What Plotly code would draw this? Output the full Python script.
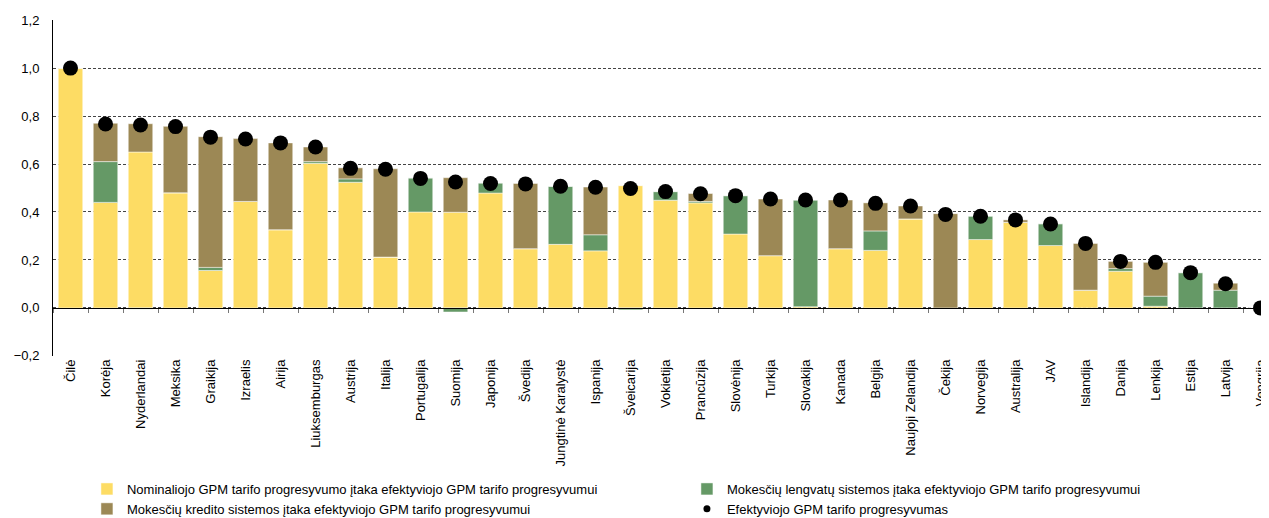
import plotly.graph_objects as go

countries = ["Čilė", "Korėja", "Nyderlandai", "Meksika", "Graikija", "Izraelis", "Airija",
             "Liuksemburgas", "Austrija", "Italija", "Portugalija", "Suomija", "Japonija",
             "Švedija", "Jungtinė Karalystė", "Ispanija", "Šveicarija", "Vokietija",
             "Prancūzija", "Slovėnija", "Turkija", "Slovakija", "Kanada", "Belgija",
             "Naujoji Zelandija", "Čekija", "Norvegija", "Australija", "JAV", "Islandija",
             "Danija", "Lenkija", "Estija", "Latvija", "Vengrija"]

nominal = [1.00, 0.44, 0.65, 0.48, 0.156, 0.444, 0.326, 0.603, 0.524, 0.212, 0.40, 0.399, 0.479,
           0.247, 0.265, 0.238, 0.51, 0.449, 0.438, 0.308, 0.218, 0.005, 0.247, 0.24,
           0.371, 0.0, 0.285, 0.357, 0.26, 0.074, 0.153, 0.007, 0.0, 0.0, 0.0]

allowances = [0.0, 0.17, -0.005, 0.0, 0.013, 0.0, 0.0, 0.007, 0.014, 0.0, 0.142, -0.017, 0.042,
              0.0, 0.242, 0.067, -0.008, 0.036, 0.006, 0.16, 0.0, 0.445, 0.0, 0.081,
              0.0, 0.0, 0.098, 0.0, 0.091, 0.0, 0.011, 0.042, 0.147, 0.074, 0.0]

credits = [0.0, 0.16, 0.118, 0.277, 0.545, 0.262, 0.362, 0.061, 0.046, 0.368, 0.0, 0.144, 0.0,
           0.272, 0.0, 0.199, 0.0, 0.0, 0.033, 0.0, 0.236, 0.0, 0.203, 0.117,
           0.054, 0.393, 0.0, 0.01, 0.0, 0.195, 0.03, 0.141, 0.0, 0.029, 0.0]

effective = [1.00, 0.767, 0.763, 0.756, 0.712, 0.704, 0.688, 0.671, 0.582, 0.578, 0.54, 0.525, 0.519,
             0.517, 0.507, 0.503, 0.498, 0.485, 0.476, 0.468, 0.454, 0.45, 0.45, 0.436,
             0.425, 0.39, 0.382, 0.367, 0.35, 0.269, 0.194, 0.19, 0.147, 0.101, 0.0]

names = ["Nominaliojo GPM tarifo progresyvumo įtaka efektyviojo GPM tarifo progresyvumui",
         "Mokesčių lengvatų sistemos įtaka efektyviojo GPM tarifo progresyvumui",
         "Mokesčių kredito sistemos įtaka efektyviojo GPM tarifo progresyvumui",
         "Efektyviojo GPM tarifo progresyvumas"]

YELLOW = "#FDDC64"
GREEN = "#659966"
BROWN = "#9C8855"
FONT = "Liberation Sans"

# The page body adds an 8px offset, so the figure is sized/positioned to compensate.
W, H = 1261, 510

fig = go.Figure()
edge = dict(color="rgba(255,255,255,0.6)", width=0.8)
fig.add_trace(go.Bar(x=countries, y=nominal, name=names[0], marker=dict(color=YELLOW, line=edge)))
fig.add_trace(go.Bar(x=countries, y=allowances, name=names[1], marker=dict(color=GREEN, line=edge)))
fig.add_trace(go.Bar(x=countries, y=credits, name=names[2], marker=dict(color=BROWN, line=edge)))
fig.add_trace(go.Scatter(x=countries, y=effective, name=names[3], mode="markers",
                         xaxis="x2", cliponaxis=False, showlegend=False,
                         marker=dict(color="black", size=15)))
# legend-only entry with a small dot, as in the reference legend
fig.add_trace(go.Scatter(x=[countries[0]], y=[None], name=names[3], mode="markers",
                         xaxis="x2", showlegend=True, hoverinfo="skip",
                         marker=dict(color="black", size=7)))

fig.update_layout(
    width=W, height=H,
    barmode="relative", bargap=0.3,
    separators=", ",
    paper_bgcolor="white", plot_bgcolor="white",
    margin=dict(l=45, r=0, t=12, b=162, autoexpand=False),
    font=dict(family=FONT, size=13, color="black"),
    xaxis=dict(type="category", categoryorder="array", categoryarray=countries,
               range=[-0.5, 34.243], tickangle=-90, showgrid=False, showline=False,
               ticks="", tickfont=dict(size=13, color="black"), zeroline=False,
               automargin=False),
    xaxis2=dict(type="category", categoryorder="array", categoryarray=countries,
                matches="x", overlaying="x", anchor="free", position=0.2 / 1.4,
                side="bottom", showline=True, linecolor="black", linewidth=1,
                ticks="outside", tickson="boundaries", ticklen=4, tickcolor="#777",
                showticklabels=False, showgrid=False, zeroline=False, automargin=False),
    yaxis=dict(range=[-0.2005, 1.2005], tick0=-0.2, dtick=0.2, tickformat=".1f",
               showgrid=True, gridcolor="#444", griddash="3px,2px", gridwidth=1,
               showline=True, linecolor="black", linewidth=1, zeroline=False,
               tickfont=dict(size=13, color="black"), ticks="", ticklabelstandoff=10,
               automargin=False),
    legend=dict(orientation="h", xref="container", yref="container",
                x=0.0626, y=0.0863, xanchor="left", yanchor="top",
                entrywidth=555, entrywidthmode="pixels", itemsizing="trace",
                traceorder="normal", font=dict(size=13, family=FONT),
                tracegroupgap=0, itemwidth=30),
    showlegend=True,
)

fig.write_html("out.html")
